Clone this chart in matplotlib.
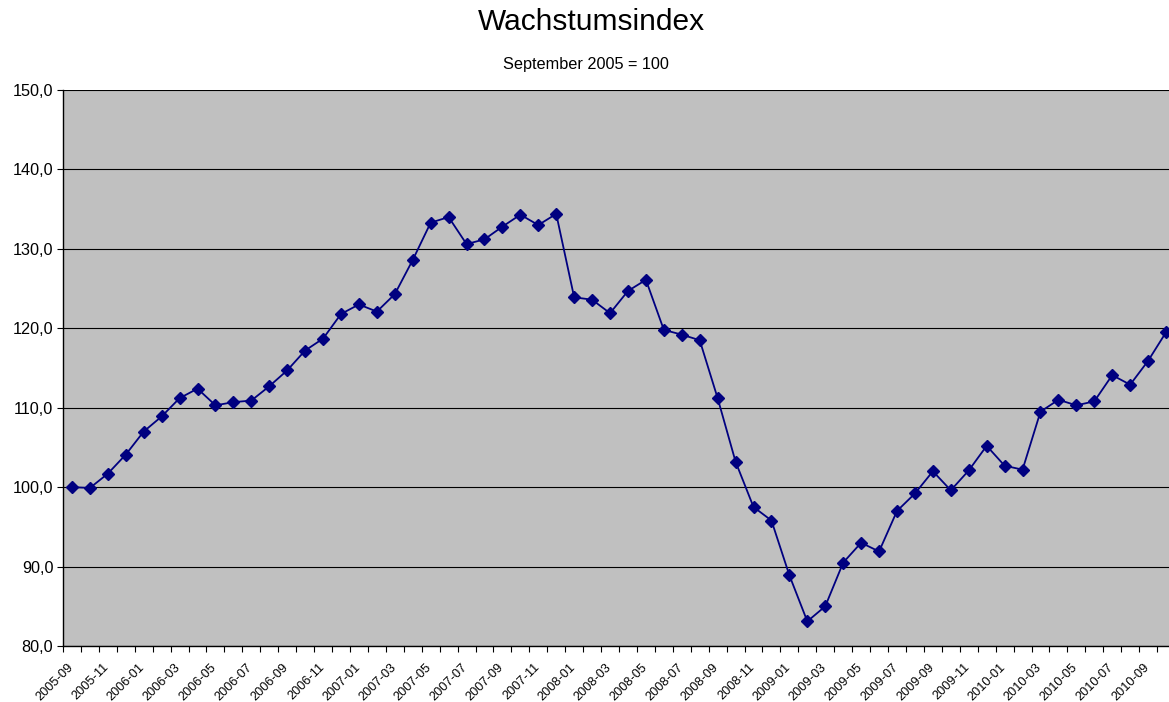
import matplotlib
matplotlib.use("Agg")
import matplotlib.pyplot as plt
import matplotlib.transforms as mtransforms
import numpy as np

plt.rcParams['font.family'] = ['Liberation Sans', 'DejaVu Sans']

months = [f"{y}-{m:02d}" for y, m in
          [(2005, m) for m in range(9, 13)] +
          [(y, m) for y in range(2006, 2010) for m in range(1, 13)] +
          [(2010, m) for m in range(1, 11)]]

values = [100.0, 99.9, 101.7, 104.1, 107.0, 108.9, 111.2, 112.4, 110.3, 110.7,
          110.9, 112.7, 114.7, 117.2, 118.7, 121.8, 123.0, 122.1, 124.3, 128.6,
          133.3, 134.0, 130.6, 131.2, 132.8, 134.3, 133.0, 134.4, 123.9, 123.6,
          121.9, 124.7, 126.1, 119.8, 119.2, 118.5, 111.2, 103.2, 97.5, 95.8,
          88.9, 83.1, 85.0, 90.5, 93.0, 91.9, 97.0, 99.2, 102.0, 99.6,
          102.1, 105.2, 102.7, 102.2, 109.5, 111.0, 110.3, 110.8, 114.1, 112.9,
          115.9, 119.5]

yticks = [80, 90, 100, 110, 120, 130, 140, 150]

W, H = 1169, 702
fig = plt.figure(figsize=(W / 100, H / 100), dpi=100)
left, right, top, bottom = 63, 1175, 90, 646
ax = fig.add_axes([left / W, 1 - bottom / H, (right - left) / W, (bottom - top) / H])
ax.set_facecolor('#C0C0C0')

x = np.arange(len(values))
ax.plot(x, values, color='#000080', lw=1.3, marker='D', markersize=6,
        markerfacecolor='#000080', markeredgecolor='#000080', zorder=3,
        clip_on=False)

ax.set_xlim(-0.5, len(values) - 0.5)
ax.set_ylim(80, 150)
ax.set_yticks(yticks)
ax.set_yticklabels([f"{v},0" for v in yticks], fontsize=11.7)
ax.yaxis.grid(True, color='black', lw=0.8)
ax.set_axisbelow(True)

ax.set_xticks(x[::2])
ax.set_xticklabels(months[::2], rotation=45, ha='right', rotation_mode='anchor',
                   fontsize=9.2)
ax.tick_params(axis='x', which='major', length=0, pad=11)
shift = mtransforms.ScaledTranslation(-5 / 100, 0, fig.dpi_scale_trans)
for lab in ax.get_xticklabels():
    lab.set_transform(lab.get_transform() + shift)
ax.set_xticks(np.arange(len(values) + 1) - 0.5, minor=True)
ax.tick_params(axis='x', which='minor', length=4, direction='out', width=0.8)
ax.tick_params(axis='y', length=4, direction='out', width=0.8, pad=3)

for s in ['top', 'right']:
    ax.spines[s].set_visible(False)
for s in ['left', 'bottom']:
    ax.spines[s].set_color('black')
    ax.spines[s].set_linewidth(1.0)

fig.text(591 / W, 1 - 22 / H, 'Wachstumsindex', ha='center', va='center', fontsize=21.5)
fig.text(586 / W, 1 - 64 / H, 'September 2005 = 100', ha='center', va='center', fontsize=11.7)

fig.savefig('out.png', dpi=100)
